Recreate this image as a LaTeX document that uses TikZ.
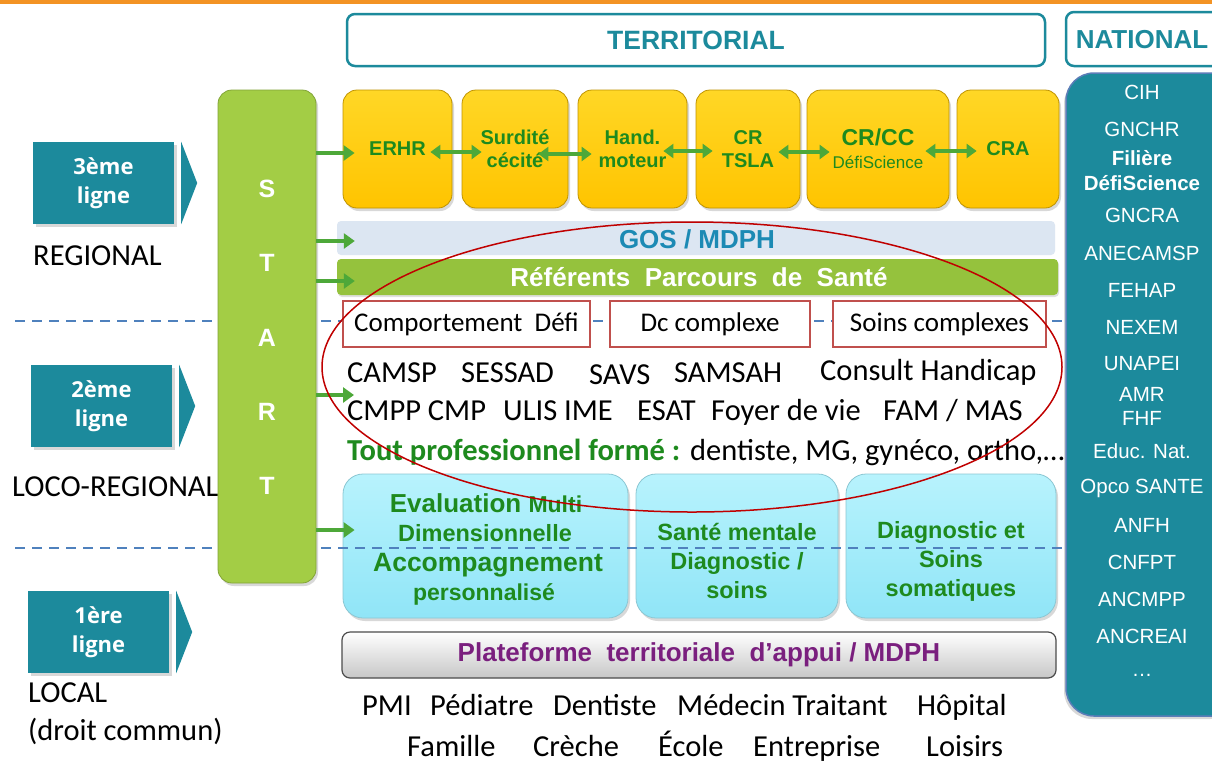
\documentclass[tikz,border=0pt]{standalone}
\usepackage{fontspec}
\setmainfont{Liberation Sans}
\newfontfamily\calib{Carlito}
\newfontfamily\osans{Open Sans}
\usetikzlibrary{arrows.meta,shadows,calc}
\definecolor{teal1}{HTML}{1C8A9C}
\definecolor{orng}{HTML}{F39324}
\definecolor{startg}{HTML}{A3CD45}
\definecolor{arrg}{HTML}{4DA839}
\definecolor{dgreen}{HTML}{1E8A1E}
\definecolor{yel1}{HTML}{FFD726}
\definecolor{yel2}{HTML}{FFC400}
\definecolor{cy1}{HTML}{B8F3FD}
\definecolor{cy2}{HTML}{90E5F7}
\definecolor{gosbg}{HTML}{DCE6F2}
\definecolor{gostx}{HTML}{1C8AB4}
\definecolor{refbg}{HTML}{95C23D}
\definecolor{redb}{HTML}{C0504D}
\definecolor{ellc}{HTML}{C00000}
\definecolor{dashc}{HTML}{4F81BD}
\definecolor{purp}{HTML}{7A1F7E}
\definecolor{natedge}{HTML}{5B7DB8}
\tikzset{
  ybox/.style={draw=yel2!75!black, line width=0.8pt, top color=yel1, bottom color=yel2,
    rounded corners=14pt, minimum width=#1, minimum height=118pt,
    drop shadow={opacity=0.3, shadow xshift=2pt, shadow yshift=-3pt},
    text=dgreen, font=\bfseries\fontsize{20}{23}\selectfont, align=center},
  cbox/.style={draw=cy2!70!gray, line width=0.8pt, top color=cy1, bottom color=cy2,
    rounded corners=20pt, minimum width=#1, minimum height=144pt,
    drop shadow={opacity=0.3, shadow xshift=2pt, shadow yshift=-3pt}},
  ctext/.style={text=dgreen, font=\bfseries\fontsize{23.5}{29}\selectfont, align=center},
  lbox/.style={fill=teal1, minimum width=141pt, minimum height=82pt, text=white,
    font=\osans\bfseries\fontsize{22}{29}\selectfont, align=center,
    drop shadow={opacity=0.3, shadow xshift=3pt, shadow yshift=-3pt}},
  rbox/.style={draw=redb, line width=2pt, fill=white, minimum height=46pt, minimum width=#1,
    font=\calib\fontsize{27}{30}\selectfont},
  ctxt/.style={font=\calib\fontsize{30.5}{34}\selectfont, anchor=mid west, yshift=-7.5pt},
  nat/.style={text=white, font=\fontsize{20.5}{24}\selectfont},
  natb/.style={text=white, font=\bfseries\fontsize{20.5}{24}\selectfont},
  startl/.style={text=white, font=\bfseries\fontsize{25}{30}\selectfont},
  garrow/.style={arrg, line width=4pt, -{Triangle[length=11pt,width=15pt]}},
  dbl/.style={arrg, line width=3.5pt, {Triangle[length=10pt,width=14pt]}-{Triangle[length=10pt,width=14pt]}},
  dline/.style={dashc, line width=2pt, dash pattern=on 10pt off 7pt},
  every node/.style={inner sep=0pt}
}
\begin{document}
\begin{tikzpicture}[x=1pt,y=-1pt]
\useasboundingbox (0,0) rectangle (1212,764);
\clip (0,0) rectangle (1212,764);
\fill[white] (0,0) rectangle (1212,764);
\fill[orng] (0,0) rectangle (1212,4);

% headers
\node[draw=teal1, line width=2.5pt, fill=white, rounded corners=8pt, minimum width=698pt, minimum height=52pt] (terr) at (696,40) {};
\node[text=teal1, font=\bfseries\fontsize{26.5}{30}\selectfont] (terrt) at (696,40) {TERRITORIAL};
\node[draw=teal1, line width=2.5pt, fill=white, rounded corners=8pt, minimum width=174pt, minimum height=54pt] (natbox) at (1153,39) {};
\node[text=teal1, font=\bfseries\fontsize{26}{30}\selectfont] (natt) at (1142,40) {NATIONAL};

% national column
\node[draw=natedge, line width=1.5pt, fill=teal1, rounded corners=28pt, minimum width=174pt, minimum height=643pt,
  drop shadow={opacity=0.3, shadow xshift=-2pt, shadow yshift=-3pt}] (natcol) at (1153,394.5) {};
\foreach \yy/\tt [count=\i] in {92/CIH,129/GNCHR,215/GNCRA,253/ANECAMSP,290/FEHAP,327/NEXEM,364/UNAPEI,394/AMR,418/FHF,451/Educ. Nat.,488/Opco SANTE,525/ANFH,562/CNFPT,599/ANCMPP,636/ANCREAI,675/\dots}
  \node[nat] (n\i) at (1142,\yy) {\tt};
\node[natb] (nfil) at (1142,158) {Filière};
\node[natb] (ndefi) at (1142,183) {DéfiScience};

% ligne boxes
\node[lbox] (l3) at (103.5,183) {3ème\\ligne};
\fill[teal1] ([xshift=7pt]l3.north east) -- ([xshift=23pt]l3.east) -- ([xshift=7pt]l3.south east) -- cycle;
\node[lbox] (l2) at (101.5,406) {2ème\\ligne};
\fill[teal1] ([xshift=7pt]l2.north east) -- ([xshift=23pt]l2.east) -- ([xshift=7pt]l2.south east) -- cycle;
\node[lbox] (l1) at (98.5,632) {1ère\\ligne};
\fill[teal1] ([xshift=7pt]l1.north east) -- ([xshift=23pt]l1.east) -- ([xshift=7pt]l1.south east) -- cycle;
\node[ctxt] (reg) at (33,255) {REGIONAL};
\node[ctxt] (loco) at (12,486) {LOCO-REGIONAL};
\node[ctxt] (loc) at (28,692) {LOCAL};
\node[ctxt] (dc) at (28,730) {(droit commun)};

% yellow boxes
\node[ybox=109pt] (erhr) at (397.5,149) {ERHR};
\node[ybox=106pt] (surd) at (515,149) {Surdité\\cécité};
\node[ybox=109pt] (hand) at (632.5,149) {Hand.\\moteur};
\node[ybox=104pt] (crt) at (748,149) {CR\\TSLA};
\node[ybox=142pt] (crcc) at (878,149) {{\fontsize{23}{26}\selectfont CR/CC}\\{\mdseries\fontsize{17}{19}\selectfont DéfiScience}};
\node[ybox=102pt] (cra) at (1008,149) {CRA};
\draw[dbl] ($(erhr.east)+(-22,3)$) -- ($(surd.west)+(20,3)$);
\draw[dbl] ($(surd.east)+(-30,5)$) -- ($(hand.west)+(14,5)$);
\draw[dbl] ($(hand.east)+(-24,2)$) -- ($(crt.west)+(17,2)$);
\draw[dbl] ($(crt.east)+(-22,3)$) -- ($(crcc.west)+(23,3)$);
\draw[dbl] ($(crcc.east)+(-24,2)$) -- ($(cra.west)+(20,2)$);

% bars
\node[fill=gosbg, rounded corners=4pt, minimum width=718pt, minimum height=34pt] (gos) at (696,238) {};
\node[text=gostx, font=\bfseries\fontsize{26}{30}\selectfont] (gost) at (697,239) {GOS / MDPH};
\node[fill=refbg, rounded corners=4pt, minimum width=721pt, minimum height=36pt,
  drop shadow={opacity=0.25, shadow xshift=1pt, shadow yshift=-2pt}] (ref) at (697.5,277) {};
\node[text=white, font=\bfseries\fontsize{26}{30}\selectfont] (reft) at (699,277) {Référents\ \ Parcours\ \ de\ \ Santé};

% cyan boxes
\node[cbox=285pt] (ev) at (485.5,546) {};
\node[cbox=202pt] (sm) at (737,546) {};
\node[cbox=210pt] (ds) at (951,546) {};
\node[text=dgreen, font=\bfseries] (ev1) at (486,503) {{\fontsize{26}{28}\selectfont Evaluation\ }{\fontsize{23}{24}\selectfont Multi}};
\node[text=dgreen, font=\bfseries\fontsize{23.5}{26}\selectfont] (ev2) at (485,533) {Dimensionnelle};
\node[text=dgreen, font=\bfseries\fontsize{26.5}{30}\selectfont] (ev3) at (488,565) {Accompagnement};
\node[text=dgreen, font=\bfseries\fontsize{23}{26}\selectfont] (ev4) at (484,594) {personnalisé};
\node[ctext] (smt) at (737,561) {Santé mentale\\Diagnostic /\\soins};
\node[ctext] (dst) at (951,561) {Diagnostic et\\Soins\\somatiques};

% dashed lines
\draw[dline] (15,321) -- (1066,321);
\draw[dline] (15,548) -- (1066,548);

% START
\node[fill=startg, draw=startg!80!black, line width=0.8pt, rounded corners=14pt, minimum width=98pt, minimum height=493pt,
  drop shadow={opacity=0.3, shadow xshift=2pt, shadow yshift=-3pt}] (start) at (267,336.5) {};
\node[startl] (s1) at (267,189) {S};
\node[startl] (s2) at (267,263) {T};
\node[startl] (s3) at (267,338) {A};
\node[startl] (s4) at (267,412) {R};
\node[startl] (s5) at (267,486) {T};

% red boxes
\node[rbox=247pt] (comp) at (466.5,324) {Comportement\ \ Défi};
\node[rbox=200pt] (dcc) at (710,324) {Dc complexe};
\node[rbox=213pt] (soins) at (939.5,324) {Soins complexes};

% text rows
\node[ctxt] (camsp) at (347,372) {CAMSP};
\node[ctxt] (sessad) at (461,372) {SESSAD};
\node[ctxt] (savs) at (589,374) {SAVS};
\node[ctxt] (samsah) at (674,372) {SAMSAH};
\node[ctxt] (consult) at (820,370) {Consult Handicap};
\node[ctxt] (cmpp) at (347,410) {CMPP CMP};
\node[ctxt] (ulis) at (503,410) {ULIS IME};
\node[ctxt] (esat) at (637,410) {ESAT};
\node[ctxt] (foyer) at (711,410) {Foyer de vie};
\node[ctxt] (fam) at (883,410) {FAM / MAS};
\node[ctxt, text=dgreen, font=\calib\bfseries\fontsize{30.5}{34}\selectfont] (tout) at (347,450) {Tout professionnel formé :};
\node[ctxt] (dent) at (690,450) {dentiste, MG, gynéco, ortho,…};

% plateforme
\node[draw=black!70, line width=1.2pt, top color=white, bottom color=black!22, rounded corners=8pt,
  minimum width=714pt, minimum height=46pt] (plat) at (699,655) {};
\node[text=purp, font=\bfseries\fontsize{26}{30}\selectfont] (platt) at (699,655) {Plateforme\ \ territoriale\ \ d’appui / MDPH};

% bottom rows
\node[ctxt] (pmi) at (362,705) {PMI};
\node[ctxt] (ped) at (430,705) {Pédiatre};
\node[ctxt] (den) at (553,705) {Dentiste};
\node[ctxt] (med) at (677,705) {Médecin Traitant};
\node[ctxt] (hop) at (917,705) {Hôpital};
\node[ctxt] (fami) at (407,746) {Famille};
\node[ctxt] (cre) at (533,746) {Crèche};
\node[ctxt] (eco) at (658,746) {École};
\node[ctxt] (ent) at (753,746) {Entreprise};
\node[ctxt] (loi) at (926,746) {Loisirs};

% green arrows from START
\coordinate (a1) at ($(erhr.west)+(12,4)$);
\coordinate (a2) at ($(gos.west)+(18,3)$);
\coordinate (a3) at ($(ref.west)+(18,4)$);
\coordinate (a4) at (354,395);
\coordinate (a5) at ($(ev.west)+(12,-16)$);
\foreach \a in {a1,a2,a3,a4,a5}
  \draw[garrow] (start.east |- \a) -- (\a);

% ellipse
\draw[ellc, line width=1.5pt] (692,367) ellipse [x radius=370pt, y radius=145pt];
\end{tikzpicture}
\end{document}
